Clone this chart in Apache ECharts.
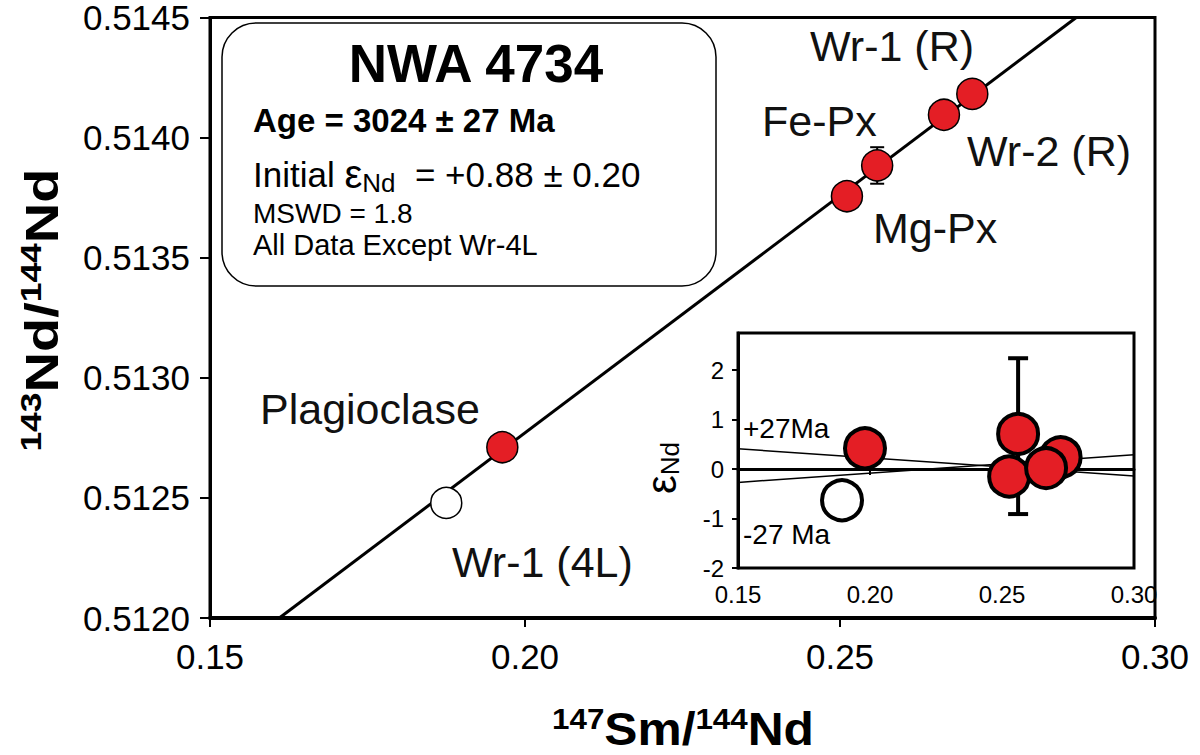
<!DOCTYPE html>
<html>
<head>
<meta charset="utf-8">
<script src="https://cdn.jsdelivr.net/npm/echarts@6/dist/echarts.min.js"></script>
<style>
  html, body { margin: 0; padding: 0; background: #fff; }
  #chart { width: 1200px; height: 755px; }
</style>
</head>
<body>
<div id="chart"></div>
<script>
// ---- Sm-Nd isochron data (147Sm/144Nd vs 143Nd/144Nd) ----
const sampleNames = ['Plagioclase', 'Mg-Px', 'Fe-Px', 'Wr-2 (R)', 'Wr-1 (R)'];
const smNd = [0.1964, 0.2511, 0.2559, 0.2665, 0.2710];
const ndNd = [0.512711, 0.513756, 0.513884, 0.514095, 0.514182];
const ndErr = [0, 0, 0.000076, 0, 0];

const excludedName = 'Wr-1 (4L)';
const excludedSmNd = [0.1875];
const excludedNdNd = [0.512479];

// regression line end points
const isochronX = [0.1610, 0.2875];
const isochronY = [0.5120, 0.5145];

const xTicks = [0.15, 0.20, 0.25, 0.30];
const yTicks = [0.5120, 0.5125, 0.5130, 0.5135, 0.5140, 0.5145];

// ---- inset: epsilon Nd residuals ----
const epsX = [0.1981, 0.2722, 0.2561, 0.2527, 0.2667];
const epsY = [0.42, 0.24, 0.71, -0.15, 0.02];
const epsBarX = [0.2561];
const epsBarLo = [-0.91];
const epsBarHi = [2.24];
const epsExclX = [0.1894];
const epsExclY = [-0.63];
const refLineX = [0.15, 0.30];
const zeroLineY = [0, 0];
const plus27Y = [0.41, -0.14];
const minus27Y = [-0.27, 0.29];
const insetXTicks = [0.15, 0.20, 0.25, 0.30];
const insetYTicks = [-2, -1, 0, 1, 2];

const FONT = '"Liberation Sans", Arial, Helvetica, sans-serif';
const RED = '#e41e25';
const INK = '#000';

function pairs(xs, ys) { return xs.map((x, i) => [x, ys[i]]); }

function errorBar(capHalf, lw) {
  return function (params, api) {
    const x = api.value(0);
    const lo = api.coord([x, api.value(1)]);
    const hi = api.coord([x, api.value(2)]);
    const st = { stroke: INK, lineWidth: lw };
    return {
      type: 'group',
      children: [
        { type: 'line', shape: { x1: lo[0], y1: lo[1], x2: hi[0], y2: hi[1] }, style: st },
        { type: 'line', shape: { x1: lo[0] - capHalf, y1: lo[1], x2: lo[0] + capHalf, y2: lo[1] }, style: st },
        { type: 'line', shape: { x1: hi[0] - capHalf, y1: hi[1], x2: hi[0] + capHalf, y2: hi[1] }, style: st }
      ]
    };
  };
}

const mainBars = smNd.map((x, i) => [x, ndNd[i] - ndErr[i], ndNd[i] + ndErr[i]]).filter((d, i) => ndErr[i] > 0);
const insetBars = epsBarX.map((x, i) => [x, epsBarLo[i], epsBarHi[i]]);

// label placement for the sample names (left edge, vertical centre)
const labelLayout = {
  'Plagioclase': [260, 409],
  'Mg-Px': [873, 228],
  'Fe-Px': [762, 121],
  'Wr-2 (R)': [967, 151],
  'Wr-1 (R)': [810, 46],
  'Wr-1 (4L)': [452, 562]
};
const labelNames = sampleNames.concat([excludedName]);

const textBox = { x: 222, y: 23, w: 494, h: 263 };

const titleRich = {
  b: { fontSize: 46, fontWeight: 'bold', fontFamily: FONT, fill: INK, lineHeight: 50 },
  sup: { fontSize: 29, fontWeight: 'bold', fontFamily: FONT, fill: INK, lineHeight: 29, verticalAlign: 'top' }
};

const option = {
  animation: false,
  backgroundColor: '#fff',
  grid: [
    { left: 210, top: 13, width: 945, height: 605, show: true, borderColor: INK, borderWidth: 3, backgroundColor: 'transparent' },
    { left: 738, top: 333, width: 396, height: 235, show: true, borderColor: INK, borderWidth: 3, backgroundColor: '#fff', z: 5 }
  ],
  xAxis: [
    {
      gridIndex: 0, type: 'value', min: 0.15, max: 0.30,
      axisLine: { show: true, lineStyle: { color: INK, width: 4 } },
      axisTick: { show: true, inside: false, length: 9, lineStyle: { color: INK, width: 2 }, customValues: xTicks },
      axisLabel: { customValues: xTicks, formatter: v => v.toFixed(2), fontSize: 35, fontFamily: FONT, color: INK, margin: 21 },
      splitLine: { show: false }
    },
    {
      gridIndex: 1, type: 'value', min: 0.15, max: 0.30, z: 6,
      axisLine: { show: true, lineStyle: { color: INK, width: 3 } },
      axisTick: { show: true, inside: false, length: 6, lineStyle: { color: INK, width: 2 }, customValues: insetXTicks },
      axisLabel: { customValues: insetXTicks, formatter: v => v.toFixed(2), fontSize: 24, fontFamily: FONT, color: INK, margin: 14 },
      splitLine: { show: false }
    }
  ],
  yAxis: [
    {
      gridIndex: 0, type: 'value', min: 0.5120, max: 0.5145,
      axisLine: { show: true, lineStyle: { color: INK, width: 3 } },
      axisTick: { show: true, inside: false, length: 10, lineStyle: { color: INK, width: 2 }, customValues: yTicks },
      axisLabel: { customValues: yTicks, formatter: v => v.toFixed(4), fontSize: 35, lineHeight: 26, fontFamily: FONT, color: INK, margin: 20 },
      splitLine: { show: false }
    },
    {
      gridIndex: 1, type: 'value', min: -2, max: 2.75, z: 6,
      axisLine: { show: true, lineStyle: { color: INK, width: 3 } },
      axisTick: { show: true, inside: false, length: 6, lineStyle: { color: INK, width: 2 }, customValues: insetYTicks },
      axisLabel: { customValues: insetYTicks, formatter: v => String(v), fontSize: 24, fontFamily: FONT, color: INK, margin: 14 },
      splitLine: { show: false }
    }
  ],
  series: [
    // isochron
    {
      type: 'line', xAxisIndex: 0, yAxisIndex: 0, data: pairs(isochronX, isochronY),
      symbol: 'none', lineStyle: { color: INK, width: 3 }, z: 2, silent: true
    },
    {
      type: 'custom', xAxisIndex: 0, yAxisIndex: 0, data: mainBars,
      renderItem: errorBar(7, 2), z: 3, silent: true
    },
    {
      type: 'scatter', xAxisIndex: 0, yAxisIndex: 0, data: pairs(smNd, ndNd),
      symbol: 'circle', symbolSize: 31,
      itemStyle: { color: RED, borderColor: INK, borderWidth: 1.5, opacity: 1 }, z: 4
    },
    {
      type: 'scatter', xAxisIndex: 0, yAxisIndex: 0, data: pairs(excludedSmNd, excludedNdNd),
      symbol: 'circle', symbolSize: 31,
      itemStyle: { color: '#fff', borderColor: INK, borderWidth: 1.5, opacity: 1 }, z: 4
    },
    // inset reference lines
    {
      type: 'line', xAxisIndex: 1, yAxisIndex: 1, data: pairs(refLineX, zeroLineY),
      symbol: 'none', lineStyle: { color: INK, width: 1.5 }, z: 7, silent: true
    },
    {
      type: 'line', xAxisIndex: 1, yAxisIndex: 1, data: pairs(refLineX, plus27Y),
      symbol: 'none', lineStyle: { color: INK, width: 1.5 }, z: 7, silent: true
    },
    {
      type: 'line', xAxisIndex: 1, yAxisIndex: 1, data: pairs(refLineX, minus27Y),
      symbol: 'none', lineStyle: { color: INK, width: 1.5 }, z: 7, silent: true
    },
    {
      type: 'custom', xAxisIndex: 1, yAxisIndex: 1, data: insetBars,
      renderItem: errorBar(10, 4), z: 8, silent: true
    },
    {
      type: 'scatter', xAxisIndex: 1, yAxisIndex: 1, data: pairs(epsX, epsY),
      symbol: 'circle', symbolSize: 40,
      itemStyle: { color: RED, borderColor: INK, borderWidth: 4, opacity: 1 }, z: 9
    },
    {
      type: 'scatter', xAxisIndex: 1, yAxisIndex: 1, data: pairs(epsExclX, epsExclY),
      symbol: 'circle', symbolSize: 40,
      itemStyle: { color: '#fff', borderColor: INK, borderWidth: 4, opacity: 1 }, z: 9
    }
  ],
  graphic: [
    // summary box
    {
      type: 'rect', z: 10,
      shape: { x: textBox.x, y: textBox.y, width: textBox.w, height: textBox.h, r: 34 },
      style: { fill: '#fff', stroke: INK, lineWidth: 1.5 }
    },
    {
      type: 'text', z: 11, x: 476, y: 63,
      style: { text: 'NWA 4734', font: 'bold 53px ' + FONT, fill: INK, align: 'center', verticalAlign: 'middle' }
    },
    {
      type: 'text', z: 11, x: 253, y: 120,
      style: { text: 'Age = 3024 ± 27 Ma', font: 'bold 33px ' + FONT, fill: INK, align: 'left', verticalAlign: 'middle' }
    },
    {
      type: 'text', z: 11, x: 253, y: 174,
      style: {
        text: 'Initial {eps|ε}{sub|Nd}  = +0.88 ± 0.20',
        fontSize: 35, fontFamily: FONT, fill: INK, lineHeight: 44,
        align: 'left', verticalAlign: 'middle',
        rich: {
          eps: { fontSize: 40, fontFamily: FONT, fill: INK, lineHeight: 44 },
          sub: { fontSize: 26, fontFamily: FONT, fill: INK, lineHeight: 26, verticalAlign: 'bottom' }
        }
      }
    },
    {
      type: 'text', z: 11, x: 253, y: 213,
      style: { text: 'MSWD = 1.8', font: '28px ' + FONT, fill: INK, align: 'left', verticalAlign: 'middle' }
    },
    {
      type: 'text', z: 11, x: 253, y: 245,
      style: { text: 'All Data Except Wr-4L', font: '29px ' + FONT, fill: INK, align: 'left', verticalAlign: 'middle' }
    },
    // axis titles
    {
      type: 'text', z: 11, x: 42, y: 310, rotation: Math.PI / 2, scaleX: 1.22,
      style: {
        text: '{sup|143}{b|Nd/}{sup|144}{b|Nd}',
        align: 'center', verticalAlign: 'middle',
        rich: titleRich
      }
    },
    {
      type: 'text', z: 11, x: 683, y: 729, scaleX: 1.08,
      style: {
        text: '{sup|147}{b|Sm/}{sup|144}{b|Nd}',
        align: 'center', verticalAlign: 'middle',
        rich: titleRich
      }
    },
    // inset axis title and reference-line labels
    {
      type: 'text', z: 11, x: 661, y: 468, rotation: Math.PI / 2,
      style: {
        text: '{eps|ε}{sub|Nd}',
        align: 'center', verticalAlign: 'middle',
        rich: {
          eps: { fontSize: 42, fontFamily: FONT, fill: INK, lineHeight: 44 },
          sub: { fontSize: 26, fontFamily: FONT, fill: INK, lineHeight: 26, verticalAlign: 'bottom' }
        }
      }
    },
    {
      type: 'text', z: 11, x: 743, y: 428,
      style: { text: '+27Ma', font: '28px ' + FONT, fill: INK, align: 'left', verticalAlign: 'middle' }
    },
    {
      type: 'text', z: 11, x: 743, y: 534,
      style: { text: '-27 Ma', font: '28px ' + FONT, fill: INK, align: 'left', verticalAlign: 'middle' }
    }
  ].concat(labelNames.map(name => ({
    type: 'text', z: 11, x: labelLayout[name][0], y: labelLayout[name][1],
    style: { text: name, font: '43px ' + FONT, fill: '#111', align: 'left', verticalAlign: 'middle' }
  })))
};

const chart = echarts.init(document.getElementById('chart'), null, { renderer: 'svg', width: 1200, height: 755 });
chart.setOption(option);
</script>
</body>
</html>
